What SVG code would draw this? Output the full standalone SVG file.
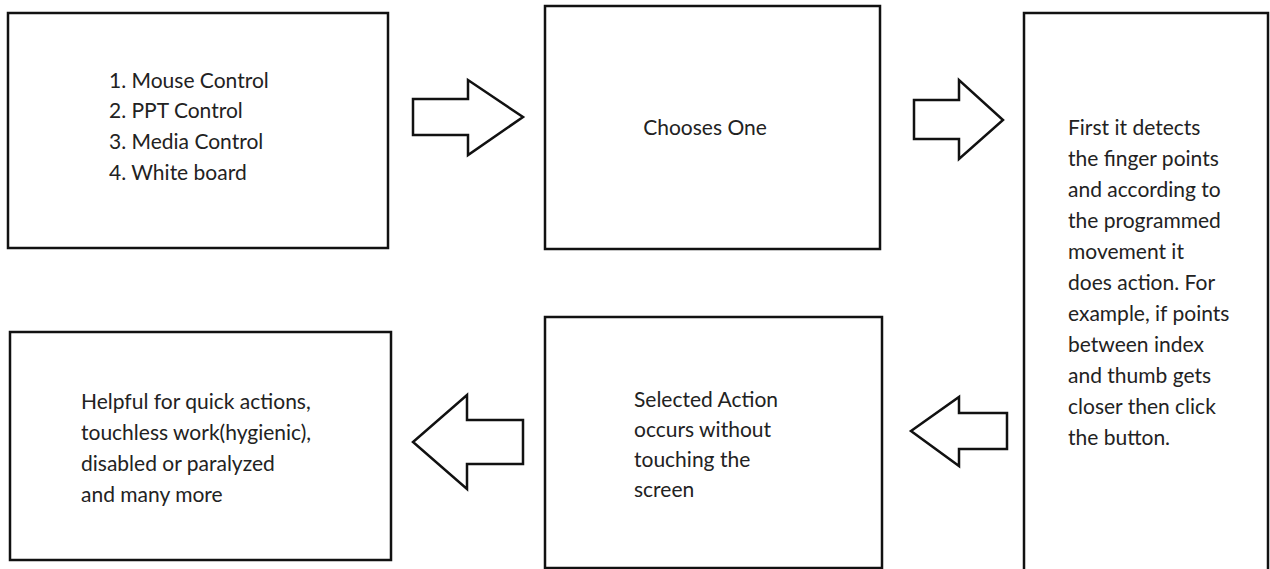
<svg xmlns="http://www.w3.org/2000/svg" width="1270" height="569" viewBox="0 0 1270 569">
<style>
.box{fill:#fff;stroke:#111;stroke-width:2.5}
.arr{fill:#fff;stroke:#111;stroke-width:2.5;stroke-linejoin:miter}
text{font-family:Lato,"Open Sans",sans-serif;font-size:21px;fill:#222}
</style>
<rect width="1270" height="569" fill="#fff"/>
<g id="connectors">
<polygon class="arr" points="413,99 468,99 468,80 523,117 468,155 468,135 413,135"/>
<polygon class="arr" points="914,100 959,100 959,80 1003,120 959,159 959,139 914,139"/>
<polygon class="arr" points="1007,413 959,413 959,397 911,431 959,466 959,449 1007,449"/>
<polygon class="arr" points="523,420 467,420 467,395 413,442 467,489 467,464 523,464"/>
</g>
<g id="n1">
<rect class="box" x="8" y="13" width="380" height="235"/>
<text x="109" y="88">1. Mouse Control</text>
<text x="109" y="118">2. PPT Control</text>
<text x="109" y="149">3. Media Control</text>
<text x="109" y="180">4. White board</text>
</g>
<g id="n2">
<rect class="box" x="545" y="6" width="335" height="243"/>
<text x="705" y="135" text-anchor="middle">Chooses One</text>
</g>
<g id="n3">
<rect class="box" x="1024" y="13" width="244" height="570"/>
<text x="1068" y="135">First it detects</text>
<text x="1068" y="166">the finger points</text>
<text x="1068" y="197">and according to</text>
<text x="1068" y="228">the programmed</text>
<text x="1068" y="259">movement it</text>
<text x="1068" y="290">does action. For</text>
<text x="1068" y="321">example, if points</text>
<text x="1068" y="352">between index</text>
<text x="1068" y="383">and thumb gets</text>
<text x="1068" y="414">closer then click</text>
<text x="1068" y="445">the button.</text>
</g>
<g id="n4">
<rect class="box" x="10" y="332" width="381" height="228"/>
<text x="81" y="409">Helpful for quick actions,</text>
<text x="81" y="440">touchless work(hygienic),</text>
<text x="81" y="471">disabled or paralyzed</text>
<text x="81" y="502">and many more</text>
</g>
<g id="n5">
<rect class="box" x="545" y="317" width="337" height="251"/>
<text x="634" y="407">Selected Action</text>
<text x="634" y="437">occurs without</text>
<text x="634" y="467">touching the</text>
<text x="634" y="497">screen</text>
</g>
</svg>
